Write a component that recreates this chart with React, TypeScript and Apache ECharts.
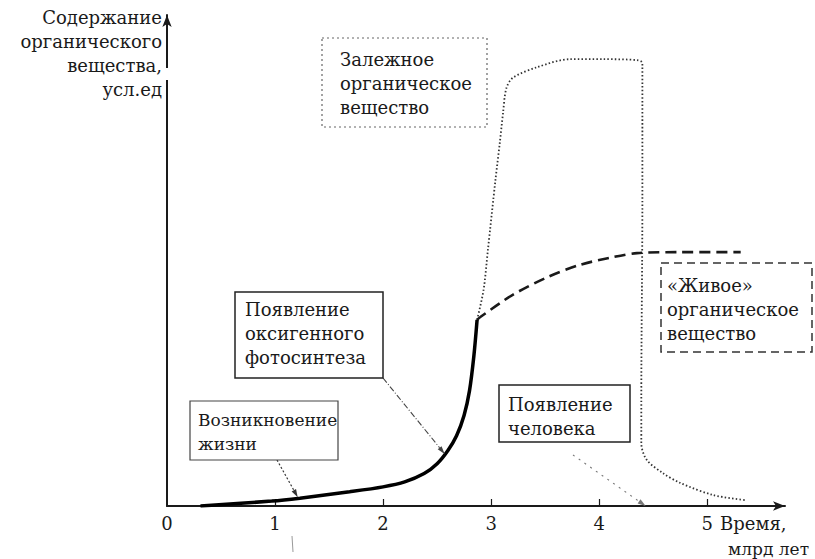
import React, { useEffect, useRef } from "react";
import * as echarts from "echarts";

// ---- data ----
const xTickValues = [0, 1, 2, 3, 4, 5];
const xMinorTicks = [1, 2, 3, 4, 5];
const yAxisTitle = ["Содержание", "органического", "вещества,", "усл.ед"];
const xAxisTitle = ["Время,", "млрд лет"];

// living organic matter before oxygenic photosynthesis (solid)
const livingSolidX = [0.31, 0.97, 1.23, 1.69, 2.0, 2.2, 2.38, 2.5, 2.6, 2.68, 2.75, 2.8, 2.84, 2.87];
const livingSolidY = [0, 1.0, 1.6, 2.9, 3.9, 4.9, 6.6, 8.6, 11.3, 14.3, 18.5, 23.5, 30.5, 37.9];
// living organic matter afterwards (dashed)
const livingDashedX = [2.87, 2.9, 3.2, 3.52, 3.82, 4.13, 4.35, 4.75, 5.31];
const livingDashedY = [37.9, 38.5, 43.0, 46.6, 49.1, 50.7, 51.5, 51.7, 51.7];
// fossil (buried) organic matter (dotted)
const fossilX = [2.87, 2.93, 2.97, 3.04, 3.08, 3.11, 3.14, 3.2, 3.43, 3.73, 4.04, 4.35, 4.4, 4.4, 4.39, 4.39, 4.44, 4.59, 4.75, 5.06, 5.35];
const fossilY = [37.9, 44.0, 52.1, 66.4, 73.9, 80.0, 85.0, 87.2, 89.4, 91.0, 91.0, 90.8, 90.2, 62.3, 21.6, 12.8, 9.4, 6.7, 4.7, 2.2, 1.2];

// annotation targets (data coords)
const lifeOriginPoint = [1.21, 1.8];
const oxygenicPoint = [2.57, 10.6];
const humanPoint = [4.43, 0];

const zip = (xs: number[], ys: number[]) => xs.map((x, i) => [x, ys[i]]);

const FONT = '"DejaVu Serif", "Liberation Serif", serif';
const INK = "#1a1a1a";

function textEl(text: string, x: number, y: number, size = 18, align = "left") {
  return {
    type: "text",
    silent: true,
    z: 10,
    style: { text, x, y, fill: INK, fontSize: size, fontFamily: FONT, align, verticalAlign: "middle" },
  };
}

function boxEl(x: number, y: number, w: number, h: number, lineDash: any, lw: number, color = "#222") {
  return {
    type: "rect",
    silent: true,
    z: 9,
    shape: { x, y, width: w, height: h },
    style: { fill: "#fff", stroke: color, lineWidth: lw, lineDash },
  };
}

function arrowEls(from: number[], to: number[], color: string, lw: number, lineDash: any) {
  const dx = to[0] - from[0];
  const dy = to[1] - from[1];
  const len = Math.sqrt(dx * dx + dy * dy) || 1;
  const ux = dx / len, uy = dy / len;
  const bx = to[0] - ux * 8, by = to[1] - uy * 8;
  const px = -uy * 2.5, py = ux * 2.5;
  return [
    {
      type: "line",
      silent: true,
      z: 8,
      shape: { x1: from[0], y1: from[1], x2: bx, y2: by },
      style: { stroke: color, lineWidth: lw, lineDash },
    },
    {
      type: "polygon",
      silent: true,
      z: 8,
      shape: { points: [[to[0], to[1]], [bx + px, by + py], [bx - px, by - py]] },
      style: { fill: color },
    },
  ];
}

export default function App() {
  const ref = useRef<HTMLDivElement>(null);
  useEffect(() => {
    if (!ref.current) return;
    const chart = echarts.init(ref.current, null, { renderer: "svg" });
    chart.setOption({
      animation: false,
      backgroundColor: "#fff",
      grid: { left: 167, right: 30, top: 15, bottom: 53 },
      xAxis: {
        type: "value",
        min: 0,
        max: 5.72,
        splitLine: { show: false },
        axisLine: {
          lineStyle: { color: INK, width: 2 },
          symbol: ["none", "arrow"],
          symbolSize: [7, 12],
        },
        axisTick: { show: true, inside: true, length: 7, lineStyle: { color: INK, width: 1.2 }, customValues: xMinorTicks },
        axisLabel: {
          customValues: xTickValues,
          color: INK,
          fontSize: 18,
          fontFamily: FONT,
          margin: 8,
        },
      },
      yAxis: {
        type: "value",
        min: 0,
        max: 100,
        splitLine: { show: false },
        axisTick: { show: false },
        axisLabel: { show: false },
        axisLine: {
          show: true,
          lineStyle: { color: INK, width: 2 },
          symbol: ["none", "arrow"],
          symbolSize: [7, 12],
        },
      },
      series: [
        {
          type: "line",
          data: zip(fossilX, fossilY),
          showSymbol: false,
          smooth: 0.3,
          lineStyle: { color: "#333", width: 1.8, type: [1.5, 2.2] },
          z: 2,
        },
        {
          type: "line",
          data: zip(livingDashedX, livingDashedY),
          showSymbol: false,
          smooth: 0.3,
          lineStyle: { color: INK, width: 2.6, type: [11, 6] },
          z: 3,
        },
        {
          type: "line",
          data: zip(livingSolidX, livingSolidY),
          showSymbol: false,
          smooth: 0.3,
          lineStyle: { color: "#000", width: 3.5 },
          z: 4,
        },
      ],
    });

    const toPx = (p: number[]) => chart.convertToPixel({ gridIndex: 0 }, p) as number[];
    const graphics: any[] = [];

    // y axis title
    const yLines = [17, 41, 65, 89];
    yAxisTitle.forEach((t, i) => graphics.push(textEl(t, 162, yLines[i], 18, "right")));
    // small break in y axis (as in the scan)
    graphics.push({ type: "rect", silent: true, z: 7, shape: { x: 164, y: 68, width: 8, height: 12 }, style: { fill: "#fff" } });
    // x axis title
    graphics.push(textEl(xAxisTitle[0], 720, 523, 18, "left"));
    graphics.push(textEl(xAxisTitle[1], 728, 549, 17, "left"));

    // Box: fossil organic matter (dotted)
    graphics.push(boxEl(322, 38, 165, 89, [2, 3], 1.2, "#666"));
    ["Залежное", "органическое", "вещество"].forEach((t, i) => graphics.push(textEl(t, 340, 59 + i * 24)));

    // Box: living organic matter (dashed)
    graphics.push(boxEl(661, 263, 151, 89, [8, 5], 1.5, "#333"));
    ["«Живое»", "органическое", "вещество"].forEach((t, i) => graphics.push(textEl(t, 667, 285 + i * 24)));

    // Box: oxygenic photosynthesis
    graphics.push(boxEl(235, 292, 148, 86, null, 1.5));
    ["Появление", "оксигенного", "фотосинтеза"].forEach((t, i) => graphics.push(textEl(t, 245, 309 + i * 24)));

    // Box: origin of life
    graphics.push(boxEl(190, 401, 148, 59, null, 1.2, "#444"));
    ["Возникновение", "жизни"].forEach((t, i) => graphics.push(textEl(t, 198, 420 + i * 24, 17)));

    // Box: appearance of man
    graphics.push(boxEl(499, 385, 131, 57, null, 1.5));
    ["Появление", "человека"].forEach((t, i) => graphics.push(textEl(t, 508, 404 + i * 24)));

    // leader arrows
    graphics.push(...arrowEls([277, 460], toPx(lifeOriginPoint), "#333", 1.2, [2, 2]));
    graphics.push(...arrowEls([383, 378], toPx(oxygenicPoint), "#444", 1.1, [6, 2, 1, 2]));
    graphics.push(...arrowEls([573, 455], toPx(humanPoint), "#777", 1.1, [2, 5]));

    // scan artefact under the axis
    graphics.push({ type: "line", silent: true, shape: { x1: 292, y1: 536, x2: 293, y2: 552 }, style: { stroke: "#999", lineWidth: 1 } });

    chart.setOption({ graphic: graphics });
    return () => chart.dispose();
  }, []);
  return <div ref={ref} style={{ width: 815, height: 559, position: "absolute", left: 0, top: 0 }} />;
}
